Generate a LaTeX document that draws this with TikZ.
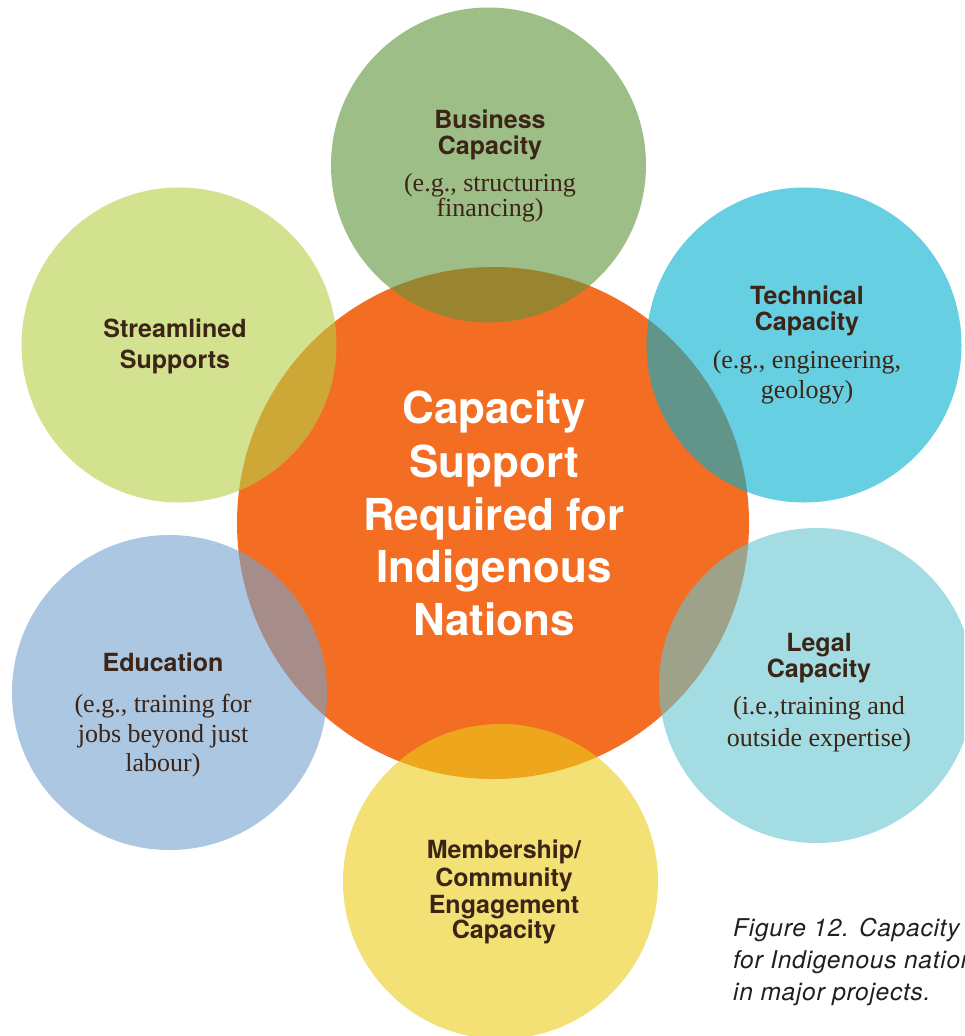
\documentclass[tikz,border=0pt]{standalone}
\usepackage{fontspec}
\setmainfont{Liberation Serif}
\newfontfamily\headfont{TeX Gyre Heros}
\newfontfamily\capfont[LetterSpace=3]{TeX Gyre Heros}
\definecolor{orangeC}{RGB}{243,110,35}
\definecolor{bizC}{RGB}{93,148,55}
\definecolor{techC}{RGB}{0,175,207}
\definecolor{strC}{RGB}{182,207,68}
\definecolor{eduC}{RGB}{115,162,205}
\definecolor{legC}{RGB}{102,197,207}
\definecolor{memC}{RGB}{235,205,25}
\definecolor{txtC}{RGB}{60,36,22}
\definecolor{capC}{RGB}{35,31,32}
\tikzset{
  outer/.style={circle, minimum size=315pt, inner sep=0pt, draw=none, fill opacity=0.6},
  centre/.style={circle, minimum size=512pt, inner sep=0pt, draw=none, fill=orangeC},
  head/.style={font=\headfont\bfseries\fontsize{25}{26}\selectfont, text=txtC, anchor=base, inner sep=0pt},
  desc/.style={font=\fontsize{26}{28}\selectfont, text=txtC, anchor=base, inner sep=0pt},
  mid/.style={font=\headfont\bfseries\fontsize{44}{50}\selectfont, text=white, anchor=base, inner sep=0pt},
  captxt/.style={font=\capfont\itshape\fontsize{24.5}{30}\selectfont, text=capC, anchor=base west, inner sep=0pt}
}
\begin{document}
\begin{tikzpicture}[x=1pt,y=-1pt]
\useasboundingbox (0,0) rectangle (964,1036);
\fill[white] (0,0) rectangle (964,1036);
\begin{scope}
\clip (0,0) rectangle (964,1036);
\node[centre] (core) at (493,523) {};
\node[outer, fill=bizC] (biz) at (488.5,165) {};
\node[outer, fill=techC] (tech) at (804,345) {};
\node[outer, fill=strC] (str) at (179,345) {};
\node[outer, fill=eduC] (edu) at (169.5,692.5) {};
\node[outer, fill=legC] (leg) at (816.5,685.5) {};
\node[outer, fill=memC] (mem) at (500.5,881.5) {};

% centre text
\node[mid] (c1) at (494,423) {Capacity};
\node[mid] (c2) at (494,477) {Support};
\node[mid] (c3) at (494,530) {Required for};
\node[mid] (c4) at (494,582) {Indigenous};
\node[mid] (c5) at (494,635) {Nations};

% business
\node[head] (b1) at (490,128) {Business};
\node[head] (b2) at (490,154) {Capacity};
\node[desc] (b3) at (490,191) {(e.g., structuring};
\node[desc] (b4) at (490,216) {financing)};

% technical
\node[head] (t1) at (807,304) {Technical};
\node[head] (t2) at (807,330) {Capacity};
\node[desc] (t3) at (807,368) {(e.g., engineering,};
\node[desc] (t4) at (807,398) {geology)};

% streamlined
\node[head] (s1) at (175,337) {Streamlined};
\node[head] (s2) at (175,368) {Supports};

% education
\node[head] (e1) at (163,671) {Education};
\node[desc] (e2) at (163,712) {(e.g., training for};
\node[desc] (e3) at (163,742) {jobs beyond just};
\node[desc] (e4) at (163,771) {labour)};

% legal
\node[head] (l1) at (819,651) {Legal};
\node[head] (l2) at (819,677) {Capacity};
\node[desc] (l3) at (819,714) {(i.e.,training and};
\node[desc] (l4) at (819,746) {outside expertise)};

% membership
\node[head] (m1) at (504,858) {Membership/};
\node[head] (m2) at (504,886) {Community};
\node[head] (m3) at (504,913) {Engagement};
\node[head] (m4) at (504,938) {Capacity};

% caption
\node[captxt] (f1) at (733,936) {Figure 12. Capacity};
\node[captxt] (f2) at (733,968) {for Indigenous nations};
\node[captxt] (f3) at (733,1000) {in major projects.};
\end{scope}
\end{tikzpicture}
\end{document}
